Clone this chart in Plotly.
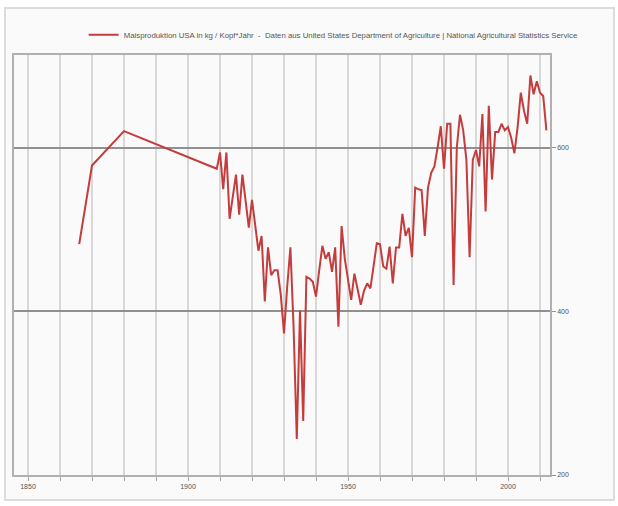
import plotly.graph_objects as go

# ---- data ----
years_early = [1866, 1870, 1880]
values_early = [482, 578, 620]

years_yearly = list(range(1909, 2013))
values_yearly = [
    574, 594, 549, 594, 513, 540, 567, 518, 567, 535,   # 1909-1918
    502, 536, 505, 474, 492, 412, 478, 444, 450, 450,   # 1919-1928
    420, 373, 430, 478, 380, 244, 401, 266, 442, 440,   # 1929-1938
    436, 418, 450, 480, 464, 472, 448, 478, 381, 504,   # 1939-1948
    464, 440, 414, 446, 428, 408, 425, 434, 428, 458,   # 1949-1958
    483, 482, 455, 452, 479, 434, 478, 478, 519, 492,   # 1959-1968
    502, 466, 551, 549, 548, 492, 551, 569, 577, 600,   # 1969-1978
    626, 574, 629, 629, 432, 600, 640, 621, 585, 466,   # 1979-1988
    585, 597, 577, 641, 522, 651, 561, 619, 619, 629,   # 1989-1998
    621, 625, 612, 593, 625, 667, 645, 629, 688, 665,   # 1999-2008
    681, 667, 663, 621,                                 # 2009-2012
]

years = years_early + years_yearly
values = values_early + values_yearly

x_tick_values = list(range(1850, 2011, 10))
x_tick_labels = [str(v) if v % 50 == 0 else "" for v in x_tick_values]
y_tick_values = [200, 400, 600]
y_tick_labels = ["200", "400", "600"]

series_name = ("Maisproduktion USA in kg / Kopf*Jahr  -  Daten aus United States "
               "Department of Agriculture | National Agricultural Statistics Service")

fig = go.Figure()
fig.add_trace(go.Scatter(
    x=years, y=values, mode="lines", name=series_name,
    line=dict(color="#c43c3c", width=2),
    showlegend=True,
))

fig.update_layout(
    width=618, height=506,
    margin=dict(l=14, r=68, t=55, b=31),
    paper_bgcolor="white",
    plot_bgcolor="#fcfcfc",
    font=dict(family="Liberation Sans, Arial, sans-serif", size=7, color="#555"),
    showlegend=True,
    legend=dict(
        orientation="h", x=0.13, xanchor="left", y=1.048, yanchor="middle",
        bgcolor="rgba(0,0,0,0)", font=dict(size=7.8, color="#555"),
        itemwidth=30,
    ),
    shapes=[dict(
        type="rect", xref="paper", yref="paper",
        x0=-0.0168, x1=1.1194, y0=-0.0595, y1=1.112,
        line=dict(color="#dcdcdc", width=2), fillcolor="#fafafa", layer="below",
    )],
)

fig.update_xaxes(
    range=[1845.625, 2013.125],
    tickmode="array", tickvals=x_tick_values, ticktext=x_tick_labels,
    showgrid=True, gridcolor="#d8d8d8", gridwidth=1.5,
    showline=True, linecolor="#b0b0b0", linewidth=1.5, mirror=True,
    ticks="outside", ticklen=4, tickcolor="#a8a8a8",
    tickfont=dict(size=7, color="#555"),
    zeroline=False,
)
fig.update_yaxes(
    range=[200, 713], side="right",
    tickmode="array", tickvals=y_tick_values, ticktext=y_tick_labels,
    showgrid=True, gridcolor="#909090", gridwidth=1.5,
    showline=True, linecolor="#b0b0b0", linewidth=1.5, mirror=True,
    ticks="outside", ticklen=4, tickcolor="#909090",
    tickfont=dict(size=7, color="#555"),
    zeroline=False,
)

fig.write_html("out.html", config={"displayModeBar": False},
               post_script="document.body.style.margin='0';")
